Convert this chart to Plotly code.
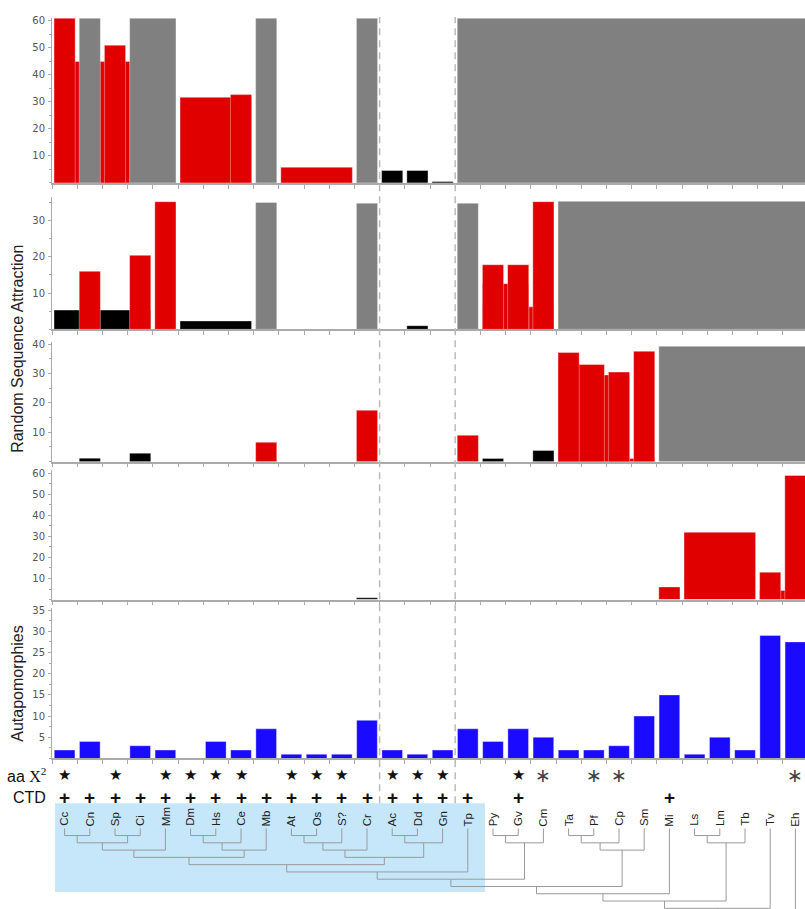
import plotly.graph_objects as go

# ---------------- data ----------------
taxa = ["Cc", "Cn", "Sp", "Ci", "Mm", "Dm", "Hs", "Ce", "Mb", "At", "Os", "S?", "Cr",
        "Ac", "Dd", "Gn", "Tp", "Py", "Gv", "Cm", "Ta", "Pf", "Cp", "Sm", "Mi", "Ls",
        "Lm", "Tb", "Tv", "Eh"]

# Random sequence attraction panels: bars span taxa first..last (kind: sig / ns / na)
rsa1_first = ["Cc", "Cc", "Cn", "Sp", "Ci", "Dm", "Ce", "Mb", "At", "Cr", "Ac", "Dd", "Gn", "Tp"]
rsa1_last = ["Ci", "Cc", "Cn", "Sp", "Mm", "Ce", "Ce", "Mb", "S?", "Cr", "Ac", "Dd", "Gn", "Eh"]
rsa1_value = [45, 61, 61, 51, 61, 31.7, 32.7, 61, 5.8, 61, 4.6, 4.6, 0.5, 61]
rsa1_kind = ["sig", "sig", "na", "sig", "na", "sig", "sig", "na", "sig", "na", "ns", "ns", "ns", "na"]

rsa2_first = ["Cc", "Cn", "Ci", "Mm", "Dm", "Mb", "Cr", "Dd", "Tp", "Py", "Py", "Py", "Gv", "Cm", "Ta"]
rsa2_last = ["Ci", "Cn", "Ci", "Mm", "Ce", "Mb", "Cr", "Dd", "Tp", "Cm", "Gv", "Py", "Gv", "Cm", "Eh"]
rsa2_value = [5.3, 16.0, 20.4, 35.2, 2.3, 35, 34.8, 1.0, 34.8, 6.2, 12.6, 17.8, 17.8, 35.2, 35.3]
rsa2_kind = ["ns", "sig", "sig", "sig", "ns", "na", "na", "ns", "na", "sig", "sig", "sig", "sig", "sig", "na"]

rsa3_first = ["Cn", "Ci", "Mb", "Cr", "Tp", "Py", "Cm", "Ta", "Ta", "Ta", "Ta", "Cp", "Sm", "Mi"]
rsa3_last = ["Cn", "Ci", "Mb", "Cr", "Tp", "Py", "Cm", "Sm", "Cp", "Pf", "Ta", "Cp", "Sm", "Eh"]
rsa3_value = [1.2, 2.9, 6.6, 17.5, 9.0, 1.1, 3.8, 1.1, 29.5, 33.1, 37.2, 30.5, 37.6, 39.3]
rsa3_kind = ["ns", "ns", "sig", "sig", "sig", "ns", "ns", "sig", "sig", "sig", "sig", "sig", "sig", "na"]

rsa4_first = ["Cr", "Mi", "Ls", "Tv", "Tv", "Eh"]
rsa4_last = ["Cr", "Mi", "Tb", "Eh", "Tv", "Eh"]
rsa4_value = [0.8, 6.0, 32.0, 4.3, 13.0, 59.0]
rsa4_kind = ["ns", "sig", "sig", "sig", "sig", "sig"]

autapomorphies = [2, 4, 0, 3, 2, 0, 4, 2, 7, 1, 1, 1, 9, 2, 1, 2, 7, 4, 7, 5, 2, 2, 3, 10, 15,
                  1, 5, 2, 29, 27.5]

aa_chi2 = ["star", "", "star", "", "star", "star", "star", "star", "", "star", "star", "star", "",
           "star", "star", "star", "", "", "star", "ast", "", "ast", "ast", "", "", "", "", "", "", "ast"]
ctd = ["+"] * 17 + ["", "+", "", "", "", "", "", "+", "", "", "", "", ""]

group_boundaries = ["Ac", "Tp"]   # dashed separators before these taxa
shaded_from, shaded_to = "Cc", "Tp"

# tree: node, left child, right child, join level
node_name = ["A", "B", "C", "D", "E", "F", "G", "H", "I", "J", "K", "L", "M", "N", "O", "P",
             "Q", "R", "S", "T", "U", "V", "W", "X", "Y", "Z", "AA", "BB", "CC"]
node_left = ["Cc", "Sp", "A", "C", "Dm", "E", "F", "D", "At", "I", "J", "Ac", "L", "K", "H", "O",
             "Py", "Q", "P", "Ta", "T", "U", "S", "W", "Ls", "Y", "X", "AA", "BB"]
node_right = ["Cn", "Ci", "B", "Mm", "Hs", "Ce", "Mb", "G", "Os", "S?", "Cr", "Dd", "Gn", "M", "N", "Tp",
              "Gv", "Cm", "R", "Pf", "Cp", "Sm", "V", "Mi", "Lm", "Tb", "Z", "Tv", "Eh"]
node_level = [1, 1, 2, 3, 1, 2, 3, 4, 1, 2, 3, 1, 2, 4, 5, 6, 1, 2, 7, 1, 2, 3, 8, 9, 1, 2, 10, 11, 12]

# ---------------- layout helpers ----------------
W, H = 805, 909
X0PX, CATPX = 52, 25.2
XMAX = (W - X0PX) / CATPX
idx = {t: i for i, t in enumerate(taxa)}
COL = {"sig": "#e00000", "ns": "#000000", "na": "#808080"}
TICKFONT = dict(family="DejaVu Sans, Verdana, sans-serif", size=10, color="#555555")
TXTFONT = "Liberation Sans, Arial, sans-serif"
AXC = "#aaaaaa"


def yf(px):
    return 1 - px / H


panels = [  # (top px, bottom px, y range top, tick values)
    (15, 180.5, 61.1, [10, 20, 30, 40, 50, 60]),
    (195, 327.4, 36.4, [10, 20, 30]),
    (340, 460.2, 40.8, [10, 20, 30, 40]),
    (469, 598.5, 61.4, [10, 20, 30, 40, 50, 60]),
    (607, 758, 35.5, [5, 10, 15, 20, 25, 30, 35]),
]

fig = go.Figure()
layout = dict(width=W, height=H, margin=dict(l=0, r=0, t=0, b=0),
              paper_bgcolor="white", plot_bgcolor="white", showlegend=False,
              barmode="overlay")

rsa_sets = [(rsa1_first, rsa1_last, rsa1_value, rsa1_kind),
            (rsa2_first, rsa2_last, rsa2_value, rsa2_kind),
            (rsa3_first, rsa3_last, rsa3_value, rsa3_kind),
            (rsa4_first, rsa4_last, rsa4_value, rsa4_kind)]

for p, (top, bot, ymax, tv) in enumerate(panels):
    n = p + 1
    xa = "x" if n == 1 else f"x{n}"
    ya = "y" if n == 1 else f"y{n}"
    if p < 4:
        first, last, val, kind = rsa_sets[p]
        a = [idx[f] for f in first]
        b = [idx[l] for l in last]
        xs = [(ai + bi + 1) / 2 for ai, bi in zip(a, b)]
        ws = [(bi - ai + 1) - 0.16 for ai, bi in zip(a, b)]
        cols = [COL[k] for k in kind]
        fig.add_trace(go.Bar(x=xs, y=val, width=ws, xaxis=xa, yaxis=ya,
                             marker=dict(color=cols, line=dict(width=0.6, color="rgba(255,255,255,0.6)")),
                             hoverinfo="skip"))
    else:
        xs = [i + 0.5 for i in range(len(taxa))]
        fig.add_trace(go.Bar(x=xs, y=autapomorphies, width=0.82, xaxis=xa, yaxis=ya,
                             marker=dict(color="#1a0aff", line=dict(width=0.6, color="rgba(255,255,255,0.6)")),
                             hoverinfo="skip"))
    layout["xaxis" if n == 1 else f"xaxis{n}"] = dict(
        domain=[X0PX / W, 1], range=[0, XMAX], anchor=ya, showgrid=False, zeroline=False,
        showline=True, linecolor=AXC, linewidth=1.5, ticks="outside", ticklen=4, tickcolor=AXC,
        tickvals=list(range(0, 31)), showticklabels=False, fixedrange=True)
    layout["yaxis" if n == 1 else f"yaxis{n}"] = dict(
        domain=[yf(bot), yf(top)], range=[0, ymax], anchor=xa, showgrid=False, zeroline=False,
        showline=True, linecolor=AXC, linewidth=1, ticks="outside", ticklen=3, tickcolor=AXC,
        tickvals=tv, tickfont=TICKFONT, ticklabelstandoff=1,
        minor=dict(ticks="outside", ticklen=2, dtick=(tv[1] - tv[0]) / 2, tickcolor=AXC),
        fixedrange=True)

# ---------------- tree ----------------
TREE_TOP, TREE_PXLVL = 828, 7.3
pos = {t: (i + 0.5, 0) for i, t in enumerate(taxa)}
tx, ty = [], []
for nm, l, r, lv in zip(node_name, node_left, node_right, node_level):
    (xl, hl), (xr, hr) = pos[l], pos[r]
    tx += [xl, xl, xr, xr, None]
    ty += [hl, lv, lv, hr, None]
    pos[nm] = ((xl + xr) / 2, lv)
fig.add_trace(go.Scatter(x=tx, y=ty, mode="lines", xaxis="x6", yaxis="y6",
                         line=dict(color="#9a9a9a", width=1), hoverinfo="skip"))
layout["xaxis6"] = dict(domain=[X0PX / W, 1], range=[0, XMAX], anchor="y6", visible=False, fixedrange=True)
layout["yaxis6"] = dict(domain=[0, yf(TREE_TOP)], range=[(H - TREE_TOP) / TREE_PXLVL, 0], anchor="x6",
                        visible=False, fixedrange=True)

# ---------------- shapes ----------------
shapes = []
shapes.append(dict(type="rect", xref="x6", yref="paper", x0=idx[shaded_from] + 0.12,
                   x1=idx[shaded_to] + 1.18, y0=yf(892), y1=yf(803),
                   fillcolor="#c6e7fa", line=dict(width=0), layer="below"))
for g in group_boundaries:
    shapes.append(dict(type="line", xref="x6", yref="paper", x0=idx[g], x1=idx[g],
                       y0=yf(803), y1=yf(14), line=dict(color="#bbbbbb", width=1.5, dash="7px,5px"),
                       layer="above"))
layout["shapes"] = shapes

# ---------------- annotations ----------------
ann = []
for i, t in enumerate(taxa):
    ann.append(dict(x=i + 0.5, y=yf(828), xref="x6", yref="paper", text=t, textangle=-90,
                    showarrow=False, xanchor="center", yanchor="bottom",
                    font=dict(family=TXTFONT, size=11.5, color="#222222")))
    if aa_chi2[i] == "star":
        ann.append(dict(x=i + 0.5, y=yf(775), xref="x6", yref="paper", text="★", showarrow=False,
                        xanchor="center", yanchor="middle",
                        font=dict(family="DejaVu Sans", size=15, color="#111111")))
    elif aa_chi2[i] == "ast":
        ann.append(dict(x=i + 0.5, y=yf(775), xref="x6", yref="paper", text="∗", showarrow=False,
                        xanchor="center", yanchor="middle",
                        font=dict(family="DejaVu Sans", size=19, color="#444444")))
    if ctd[i]:
        ann.append(dict(x=i + 0.5, y=yf(797), xref="x6", yref="paper", text="<b>+</b>", showarrow=False,
                        xanchor="center", yanchor="middle",
                        font=dict(family=TXTFONT, size=19, color="#111111")))

ann.append(dict(x=48 / W, y=yf(775), xref="paper", yref="paper", showarrow=False,
                text="aa <span style='font-family:Liberation Serif, Times New Roman, serif'>X<sup>2</sup></span>",
                xanchor="right", yanchor="middle", font=dict(family=TXTFONT, size=16, color="#111111")))
ann.append(dict(x=48 / W, y=yf(797), xref="paper", yref="paper", showarrow=False, text="CTD",
                xanchor="right", yanchor="middle", font=dict(family=TXTFONT, size=16, color="#111111")))
ann.append(dict(x=18 / W, y=yf(347), xref="paper", yref="paper", showarrow=False,
                text="Random Sequence Attraction", textangle=-90, xanchor="center", yanchor="middle",
                font=dict(family=TXTFONT, size=16, color="#222222")))
ann.append(dict(x=18 / W, y=yf(683), xref="paper", yref="paper", showarrow=False,
                text="Autapomorphies", textangle=-90, xanchor="center", yanchor="middle",
                font=dict(family=TXTFONT, size=16, color="#222222")))
layout["annotations"] = ann

fig.update_layout(**layout)
fig.write_html("out.html", config={"displayModeBar": False},
               post_script="document.body.style.margin='0';document.body.style.overflow='hidden';")
